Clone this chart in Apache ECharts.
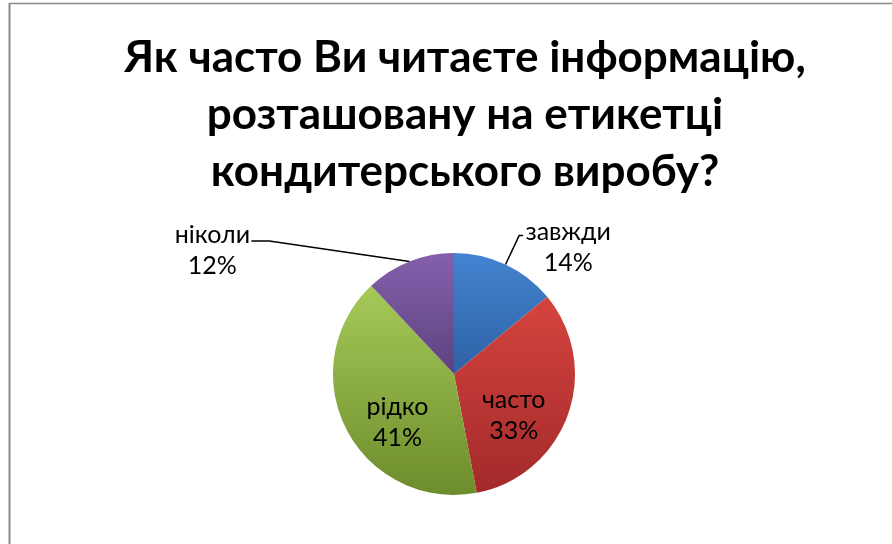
<!DOCTYPE html>
<html>
<head>
<meta charset="utf-8">
<script src="https://cdn.jsdelivr.net/npm/echarts@6/dist/echarts.min.js"></script>
<style>
  html, body { margin: 0; padding: 0; background: #fff; }
  #chart { width: 892px; height: 544px; }
</style>
</head>
<body>
<div id="chart"></div>
<script>
// Survey answers and their shares (%)
const categories = ['завжди', 'часто', 'рідко', 'ніколи'];
const shares = [14, 33, 41, 12];
const titleLines = ['Як часто Ви читаєте інформацію,', 'розташовану на етикетці', 'кондитерського виробу?'];

// Office-style vertical gradients per slice: [top, bottom]
const sliceColors = [
  ['#4383d0', '#2f62a4'],
  ['#d5443f', '#a32a2a'],
  ['#a6ca58', '#6d8c2c'],
  ['#8560ad', '#5d427f']
];

const FONT = 'Lato, "Liberation Sans", sans-serif';

function gradient(pair) {
  return new echarts.graphic.LinearGradient(0, 0, 0, 1, [
    { offset: 0, color: pair[0] },
    { offset: 1, color: pair[1] }
  ]);
}

// Per-slice label placement: small slices get leader lines, large ones sit inside
const labelSetup = [
  { position: 'outside', line: { length: 32, length2: 4 }, pad: [24, 0, 0, 0], width: 86 },
  { position: 'inside', width: 80 },
  { position: 'inside', width: 80 },
  { position: 'outside', line: { length: 22, length2: 150 }, pad: [18, 0, 0, 0], width: 74 }
];

const pieData = categories.map((name, i) => {
  const s = labelSetup[i];
  const item = {
    name: name,
    value: shares[i],
    itemStyle: { color: gradient(sliceColors[i]) },
    label: {
      position: s.position,
      rich: { t: { width: s.width } }
    }
  };
  if (s.position === 'outside') {
    item.label.padding = s.pad;
    item.labelLine = { show: true, length: s.line.length, length2: s.line.length2 };
  } else {
    item.labelLine = { show: false };
  }
  return item;
});

const chart = echarts.init(document.getElementById('chart'), null, { renderer: 'canvas' });
chart.setOption({
  backgroundColor: '#ffffff',
  animation: false,
  graphic: [
    {
      type: 'line',
      shape: { x1: 9.5, y1: 3, x2: 9.5, y2: 544 },
      style: { stroke: '#8a8a8a', lineWidth: 2 },
      silent: true
    },
    {
      type: 'line',
      shape: { x1: 9, y1: 3.5, x2: 892, y2: 3.5 },
      style: { stroke: '#8a8a8a', lineWidth: 1.5 },
      silent: true
    }
  ],
  title: {
    text: titleLines.join('\n'),
    left: 460,
    textAlign: 'center',
    top: 24,
    textStyle: {
      fontFamily: FONT,
      fontWeight: 'bold',
      fontSize: 44,
      lineHeight: 57,
      color: '#000'
    }
  },
  series: [{
    type: 'pie',
    center: [454, 374],
    radius: 121,
    startAngle: 90,
    clockwise: true,
    data: pieData,
    label: {
      show: true,
      color: '#000',
      fontFamily: FONT,
      fontSize: 25,
      distanceToLabelLine: 2,
      formatter: p => '{t|' + p.name + '}\n{t|' + p.value + '%}',
      rich: {
        t: { fontFamily: FONT, fontSize: 25, lineHeight: 31, color: '#000', align: 'center' }
      }
    },
    labelLine: {
      lineStyle: { color: '#000', width: 1.5 }
    },
    labelLayout: function (params) {
      if (params.dataIndex === 1 || params.dataIndex === 2) {
        return { dy: 20 };
      }
      if (params.dataIndex === 3 && params.labelLinePoints) {
        // Long, nearly flat leader: keep the slice anchor and the label end,
        // move the elbow next to the label
        const pts = params.labelLinePoints;
        const end = pts[2];
        return { labelLinePoints: [pts[0], [end[0] + 18, end[1]], end] };
      }
    }
  }]
});
</script>
</body>
</html>
